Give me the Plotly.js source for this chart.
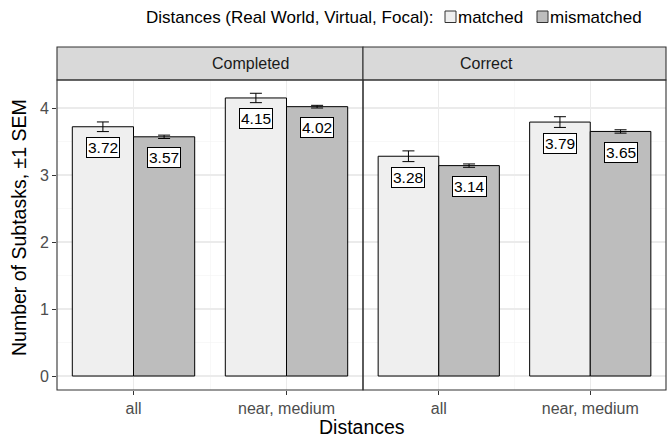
<!DOCTYPE html>
<html><head><meta charset="utf-8">
<script src="https://cdn.plot.ly/plotly-3.0.1.min.js"></script>
<style>html,body{margin:0;padding:0;background:#fff}#chart{width:667px;height:439px}</style>
</head><body><div id="chart"></div>
<script>
// ---- data ----
const panels = ["Completed", "Correct"];
const categories = ["all", "near, medium"];
const seriesNames = ["matched", "mismatched"];
const completedMatched = [3.72, 4.15];
const completedMismatched = [3.57, 4.02];
const correctMatched = [3.28, 3.79];
const correctMismatched = [3.14, 3.65];
const completedMatchedSem = [0.072, 0.07];
const completedMismatchedSem = [0.025, 0.02];
const correctMatchedSem = [0.08, 0.08];
const correctMismatchedSem = [0.025, 0.025];
const yTicks = [0, 1, 2, 3, 4];
const legendTitle = "Distances (Real World, Virtual, Focal):";
const xTitle = "Distances";
const yTitle = "Number of Subtasks, ±1 SEM";

// ---- styling ----
const FONT = "Liberation Sans, Arial, Helvetica, sans-serif";
const fills = ["#efefef", "#bdbdbd"];
const W = 667, H = 439, ML = 57, MR = 1, MT = 80, MB = 49;
const PW = W - ML - MR, PH = H - MT - MB;
const split = (363 - ML) / PW;
const px = v => (v - ML) / PW;
const py = v => (H - MB - v) / PH;

const values = [[completedMatched, completedMismatched], [correctMatched, correctMismatched]];
const sems = [[completedMatchedSem, completedMismatchedSem], [correctMatchedSem, correctMismatchedSem]];
const xIdx = categories.map((c, i) => i);

const traces = [];
const annotations = [];
panels.forEach((p, pi) => {
  const xa = pi === 0 ? "x" : "x2", ya = pi === 0 ? "y" : "y2";
  seriesNames.forEach((s, si) => {
    traces.push({
      type: "bar", name: s, x: xIdx, y: values[pi][si], xaxis: xa, yaxis: ya,
      offsetgroup: String(si), showlegend: false,
      marker: {color: fills[si], line: {color: "#000", width: 1}},
      error_y: {type: "data", array: sems[pi][si], visible: true, color: "#000", thickness: 1, width: 6},
      hoverinfo: "skip"
    });
    values[pi][si].forEach((v, ci) => {
      annotations.push({
        xref: xa, yref: ya, x: ci + (si === 0 ? -0.2 : 0.2), y: v, yshift: -21,
        text: v.toFixed(2), showarrow: false, bgcolor: "#fff", bordercolor: "#000",
        borderwidth: 1, borderpad: 1, font: {family: FONT, size: 15.5, color: "#000"}
      });
    });
  });
  annotations.push({
    xref: "paper", yref: "paper", x: pi === 0 ? split / 2 : (split + 1) / 2, y: 1 + 16.5 / PH,
    text: p, showarrow: false, font: {family: FONT, size: 16, color: "#1a1a1a"}, yanchor: "middle"
  });
});

// axis titles
annotations.push({xref: "paper", yref: "paper", x: 0.5, y: py(427), yanchor: "middle", text: xTitle,
  showarrow: false, font: {family: FONT, size: 19.5, color: "#000"}});
annotations.push({xref: "paper", yref: "paper", x: px(19), y: py(228), xanchor: "center", yanchor: "middle",
  text: yTitle, textangle: -90, showarrow: false, font: {family: FONT, size: 19.5, color: "#000"}});

// legend
annotations.push({xref: "paper", yref: "paper", x: px(436), y: py(17), xanchor: "right", yanchor: "middle",
  text: legendTitle, showarrow: false, font: {family: FONT, size: 17, color: "#000"}});
const legBoxX = [445, 537];
seriesNames.forEach((s, si) => {
  annotations.push({xref: "paper", yref: "paper", x: px(legBoxX[si] + 11), y: py(17), xanchor: "left", yanchor: "middle",
    text: s, showarrow: false, font: {family: FONT, size: 17, color: "#000"}});
});

const shapes = [];
seriesNames.forEach((s, si) => {
  shapes.push({type: "rect", xref: "paper", yref: "paper", x0: px(legBoxX[si]), x1: px(legBoxX[si] + 11),
    y0: py(22.5), y1: py(11), fillcolor: fills[si], line: {color: "#333", width: 1}});
});
// strips
[[0, split], [split, 1]].forEach(([a, b]) => {
  shapes.push({type: "rect", xref: "paper", yref: "paper", x0: a, x1: b, y0: 1, y1: 1 + 33 / PH,
    fillcolor: "#d9d9d9", line: {color: "#333", width: 1.1}});
});
// panel borders
["", "2"].forEach(n => {
  shapes.push({type: "rect", xref: "x" + n + " domain", yref: "y" + n + " domain", x0: 0, x1: 1, y0: 0, y1: 1,
    line: {color: "#333", width: 1.1}, fillcolor: "rgba(0,0,0,0)", layer: "above"});
});

const xBase = {
  range: [-0.5, 1.5], tickmode: "array", tickvals: xIdx, ticktext: categories,
  ticks: "outside", ticklen: 4, tickcolor: "#333", tickwidth: 1,
  tickfont: {family: FONT, size: 16, color: "#4d4d4d"},
  showgrid: true, gridcolor: "#ebebeb", gridwidth: 1.1, zeroline: false, showline: false,
  minor: {tickmode: "array", tickvals: [0.5], showgrid: true, gridcolor: "#f3f3f3", gridwidth: 0.6, ticks: ""},
  fixedrange: true
};
const yBase = {
  range: [-0.209, 4.418], tickmode: "array", tickvals: yTicks,
  showgrid: true, gridcolor: "#ebebeb", gridwidth: 1.1, zeroline: false, showline: false,
  minor: {dtick: 0.5, tick0: 0, showgrid: true, gridcolor: "#f3f3f3", gridwidth: 0.6, ticks: ""},
  fixedrange: true
};

const layout = {
  width: W, height: H, margin: {l: ML, r: MR, t: MT, b: MB},
  paper_bgcolor: "#fff", plot_bgcolor: "#fff", showlegend: false,
  barmode: "group", bargap: 0.2, bargroupgap: 0,
  font: {family: FONT},
  xaxis: Object.assign({}, xBase, {domain: [0, split], anchor: "y"}),
  xaxis2: Object.assign({}, xBase, {domain: [split, 1], anchor: "y2"}),
  yaxis: Object.assign({}, yBase, {anchor: "x", ticks: "outside", ticklen: 4, tickcolor: "#333",
    tickfont: {family: FONT, size: 16, color: "#4d4d4d"}}),
  yaxis2: Object.assign({}, yBase, {anchor: "x2", matches: "y", showticklabels: false, ticks: ""}),
  shapes: shapes, annotations: annotations
};

Plotly.newPlot("chart", traces, layout, {staticPlot: true, displayModeBar: false});
</script>
</body></html>
